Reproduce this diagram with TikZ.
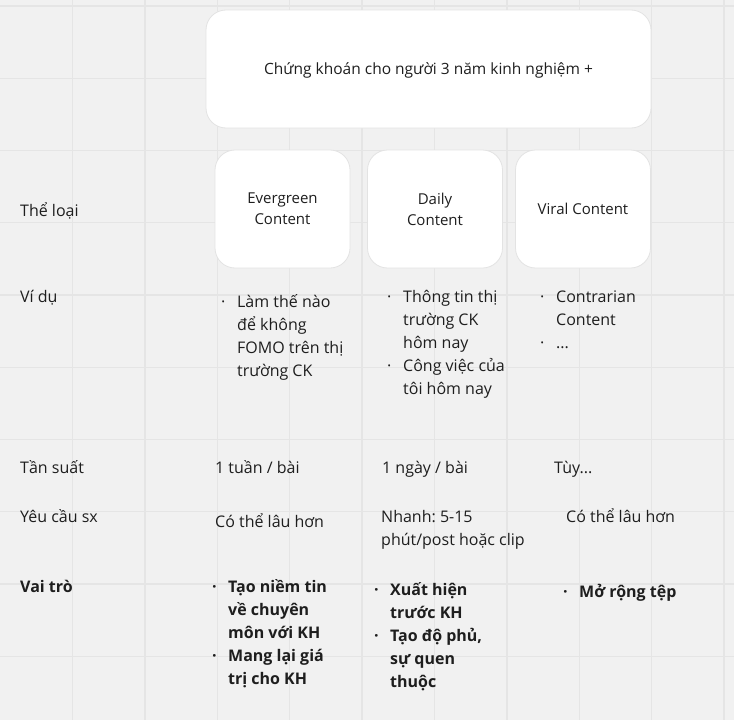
\documentclass[tikz,border=0pt]{standalone}
\usepackage{fontspec}
\setmainfont{Open Sans}
\usepackage{tikz}
\frenchspacing

\definecolor{bgc}{HTML}{F1F1F1}
\definecolor{gridc}{HTML}{E5E5E5}
\definecolor{edgec}{HTML}{E3E3E3}
\definecolor{txt}{HTML}{1E1E1E}

\newcommand{\bul}{\makebox[16pt][l]{·}}

\begin{document}
\begin{tikzpicture}[x=1pt,y=-1pt,
	box/.style={shape=rectangle,rounded corners=20pt,draw=edgec,fill=white,line width=0.8pt,
		text=txt,align=center,font=\fontsize{15}{21}\selectfont},
	lbl/.style={anchor=base west,inner sep=0pt,text=txt,font=\fontsize{16}{23}\selectfont},
	bold/.style={lbl,font=\fontsize{16}{23}\selectfont\bfseries}]
	
	\useasboundingbox (0,0) rectangle (734,720);
	\fill[bgc] (0,0) rectangle (734,720);
	\foreach \i in {1,...,10} \draw[gridc,line width=1.4pt] (72.4*\i,0) -- (72.4*\i,720);
	\foreach \j in {0,...,9} \draw[gridc,line width=1.4pt] (0,6+72.25*\j) -- (734,6+72.25*\j);
	
	\node[box,minimum width=445pt,minimum height=118pt,font=\fontsize{15.5}{21}\selectfont] (title) at (428.5,69)
		{\raisebox{-5pt}[0pt][0pt]{Chứng khoán cho người 3 năm kinh nghiệm +}};
	\node[box,minimum width=135pt,minimum height=118pt] (ever) at (282.5,209) {Evergreen\\Content};
	\node[box,minimum width=135pt,minimum height=118pt] (daily) at (435,209) {Daily\\Content};
	\node[box,minimum width=135pt,minimum height=118pt] (viral) at (583,209) {Viral Content};
	
	\node[lbl] (theloai) at (20,216) {Thể loại};
	\node[lbl] (vidu) at (20,302) {Ví dụ};
	\node[lbl] (tansuat) at (20,473) {Tần suất};
	\node[lbl] (yeucau) at (20,522) {Yêu cầu sx};
	\node[bold] (vaitro) at (20,592) {Vai trò};
	
	\node[lbl] (evervd) at (221,307) {\begin{tabular}[t]{@{}l@{}l@{}}
			\bul & Làm thế nào\\ & để không\\ & FOMO trên thị\\ & trường CK\end{tabular}};
	\node[lbl] (dailyvd) at (387,302) {\begin{tabular}[t]{@{}l@{}l@{}}
			\bul & Thông tin thị\\ & trường CK\\ & hôm nay\\
			\bul & Công việc của\\ & tôi hôm nay\end{tabular}};
	\node[lbl] (viralvd) at (540,302) {\begin{tabular}[t]{@{}l@{}l@{}}
			\bul & Contrarian\\ & Content\\ \bul & ...\end{tabular}};
	
	\node[lbl] (evertan) at (215,473) {1 tuần / bài};
	\node[lbl] (dailytan) at (382,473) {1 ngày / bài};
	\node[lbl] (viraltan) at (554,473) {Tùy...};
	
	\node[lbl] (everyc) at (215,527) {Có thể lâu hơn};
	\node[lbl] (dailyyc) at (381,522) {\begin{tabular}[t]{@{}l@{}}Nhanh: 5-15\\ phút/post hoặc clip\end{tabular}};
	\node[lbl] (viralyc) at (566,522) {Có thể lâu hơn};
	
	\node[bold] (evervt) at (212,592) {\begin{tabular}[t]{@{}l@{}l@{}}
			\bul & Tạo niềm tin\\ & về chuyên\\ & môn với KH\\
			\bul & Mang lại giá\\ & trị cho KH\end{tabular}};
	\node[bold] (dailyvt) at (374,595) {\begin{tabular}[t]{@{}l@{}l@{}}
			\bul & Xuất hiện\\ & trước KH\\
			\bul & Tạo độ phủ,\\ & sự quen\\ & thuộc\end{tabular}};
	\node[bold] (viralvt) at (563,597) {\begin{tabular}[t]{@{}l@{}l@{}}
			\bul & Mở rộng tệp\end{tabular}};
	
\end{tikzpicture}
\end{document}
